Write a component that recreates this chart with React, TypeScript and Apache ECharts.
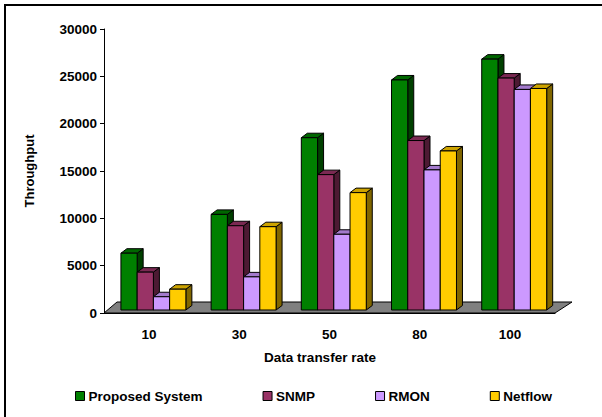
import React, { useEffect, useRef } from "react";
import * as echarts from "echarts";

const categories = ["10", "30", "50", "80", "100"];
const seriesNames = ["Proposed System", "SNMP", "RMON", "Netflow"];
const proposedSystem = [6000, 10100, 18200, 24300, 26500];
const snmp = [4000, 8900, 14300, 17900, 24500];
const rmon = [1400, 3500, 8000, 14800, 23300];
const netflow = [2200, 8800, 12400, 16800, 23400];
const yTicks = [0, 5000, 10000, 15000, 20000, 25000, 30000];

const seriesValues = [proposedSystem, snmp, rmon, netflow];
const frontColors = ["#008000", "#993366", "#CC99FF", "#FFCC00"];
const topColors = ["#006600", "#7A2952", "#A37ACC", "#CCA300"];
const sideColors = ["#004000", "#4D1A33", "#6B5080", "#806600"];

const FONT = "'Liberation Sans', Arial, sans-serif";

export default function App() {
  const ref = useRef<HTMLDivElement>(null);
  useEffect(() => {
    document.body.style.margin = "0";
    const chart = echarts.init(ref.current!, undefined, { renderer: "svg" });
    const barSeries = seriesNames.map((name, si) => ({
      type: "custom",
      name,
      z: 3,
      itemStyle: { color: frontColors[si], borderColor: "#000", borderWidth: 1 },
      data: seriesValues[si].map((v, i) => [i, v]),
      renderItem: (params: any, api: any) => {
        const idx = api.value(0);
        const v = api.value(1);
        const base = api.coord([idx, 0]);
        const top = api.coord([idx, v]);
        const bw = api.size([1, 0])[0];
        const w = bw * 0.18;
        const left = base[0] - 2 * w + 4.3 + si * w;
        const yb = base[1] - 3;
        const yt = top[1] - 3;
        const dx = 6;
        const dy = 4.5;
        const st = { stroke: "#000", lineWidth: 1 };
        return {
          type: "group",
          children: [
            {
              type: "polygon",
              shape: { points: [[left + w, yt], [left + w + dx, yt - dy], [left + w + dx, yb - dy], [left + w, yb]] },
              style: { fill: sideColors[si], ...st },
            },
            {
              type: "polygon",
              shape: { points: [[left, yt], [left + dx, yt - dy], [left + w + dx, yt - dy], [left + w, yt]] },
              style: { fill: topColors[si], ...st },
            },
            {
              type: "rect",
              shape: { x: left, y: yt, width: w, height: yb - yt },
              style: { fill: frontColors[si], ...st },
            },
          ],
        };
      },
    }));
    const floorSeries = {
      type: "custom",
      name: "floor",
      z: 2,
      silent: true,
      data: [[0, 0]],
      renderItem: (params: any, api: any) => {
        const bw = api.size([1, 0])[0];
        const a = api.coord([0, 0]);
        const b = api.coord([categories.length - 1, 0]);
        const lx = a[0] - bw / 2;
        const rx = b[0] + bw / 2;
        const y = a[1];
        return {
          type: "polygon",
          shape: { points: [[lx, y], [lx + 13, y - 11], [rx + 17, y - 11], [rx, y]] },
          style: { fill: "#808080", stroke: "#000", lineWidth: 1 },
        };
      },
    };
    chart.setOption({
      animation: false,
      textStyle: { fontFamily: FONT },
      grid: { left: 104, right: 47, top: 29, bottom: 104 },
      legend: {
        data: seriesNames,
        left: 70,
        top: 384,
        icon: "rect",
        itemWidth: 9,
        itemHeight: 9,
        itemGap: 60,
        itemStyle: { borderColor: "#000", borderWidth: 1 },
        textStyle: { fontFamily: FONT, fontWeight: "bold", fontSize: 13.5, color: "#000", padding: [0, 0, 0, -1] },
      },
      xAxis: {
        type: "category",
        data: categories,
        axisLine: { lineStyle: { color: "#000", width: 1 } },
        axisTick: { length: 5, lineStyle: { color: "#000" } },
        axisLabel: { fontWeight: "bold", fontSize: 13.5, color: "#000", margin: 14, fontFamily: FONT },
      },
      yAxis: {
        type: "value",
        min: yTicks[0],
        max: yTicks[yTicks.length - 1],
        interval: 5000,
        axisLine: { show: true, lineStyle: { color: "#000", width: 1 } },
        axisTick: { show: true, length: 4, lineStyle: { color: "#000" } },
        splitLine: { show: false },
        axisLabel: {
          fontWeight: "bold",
          fontSize: 13.5,
          color: "#000",
          margin: 7,
          fontFamily: FONT,
          formatter: (v: number) => String(v),
        },
      },
      graphic: [
        {
          type: "rect",
          shape: { x: 5, y: 5, width: 640, height: 460 },
          style: { fill: "none", stroke: "#000", lineWidth: 2 },
          silent: true,
        },
        {
          type: "text",
          x: 29,
          y: 171,
          rotation: Math.PI / 2,
          style: { text: "Throughput", font: `bold 13px ${FONT}`, fill: "#000", align: "center", verticalAlign: "middle" },
        },
        {
          type: "text",
          x: 320,
          y: 357,
          style: { text: "Data transfer rate", font: `bold 13.5px ${FONT}`, fill: "#000", align: "center", verticalAlign: "middle" },
        },
      ],
      series: [floorSeries, ...barSeries],
    });
    return () => chart.dispose();
  }, []);
  return <div ref={ref} style={{ width: 602, height: 417 }} />;
}
